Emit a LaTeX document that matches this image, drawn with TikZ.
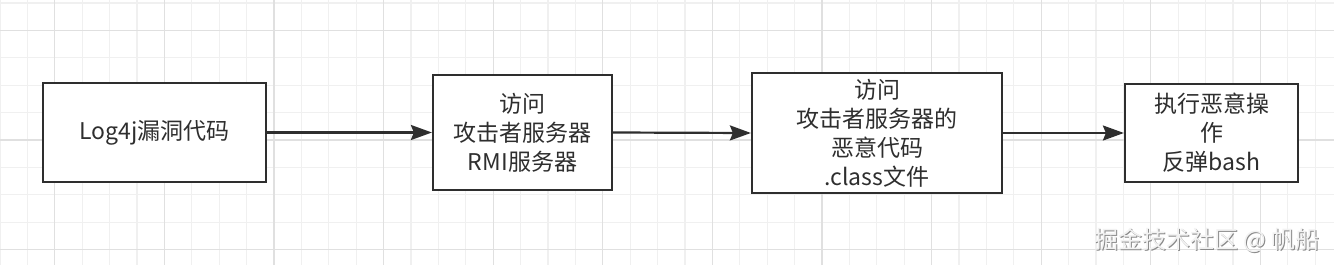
\documentclass[tikz,border=0pt]{standalone}
\usepackage{fontspec}
\setmainfont{Noto Sans CJK SC}
\usetikzlibrary{arrows.meta}
\definecolor{gridminor}{HTML}{F0F0F0}
\definecolor{gridmajor}{HTML}{E0E0E0}
\definecolor{ink}{HTML}{2E2E2E}
\definecolor{wmshadow}{HTML}{8A8A8A}
\definecolor{wmface}{HTML}{F2F2F2}
\tikzset{
  stepbox/.style={draw=ink, line width=2.2pt, fill=white, align=center, inner sep=0pt,
    text=ink, font=\fontsize{23}{29}\selectfont},
  flow/.style={draw=ink, line width=2.2pt, -{Stealth[length=21pt,width=15pt,inset=3pt]}},
  wmark/.style={font=\fontsize{24}{28}\selectfont, anchor=east, inner sep=0pt}
}
\begin{document}
\begin{tikzpicture}[x=1pt,y=-1pt]
\useasboundingbox (0,0) rectangle (1334,265);
\fill[white] (0,0) rectangle (1334,265);
% grid
\foreach \i in {0,...,48} \draw[gridminor, line width=1.2pt] (\i*27.4,0) -- (\i*27.4,265);
\foreach \j in {0,...,9} \draw[gridminor, line width=1.2pt] (0,3+\j*27.4) -- (1334,3+\j*27.4);
\foreach \i in {0,...,12} \draw[gridmajor, line width=1.2pt] (54.8+\i*109.6,0) -- (54.8+\i*109.6,265);
\foreach \j in {0,...,2} \draw[gridmajor, line width=1.2pt] (0,30.4+\j*109.6) -- (1334,30.4+\j*109.6);
% boxes
\node[stepbox, minimum width=223pt, minimum height=99pt] (b1) at (154.5,132.5) {Log4j漏洞代码};
\node[stepbox, minimum width=179pt, minimum height=115pt] (b2) at (522.5,132.5) {访问\\攻击者服务器\\RMI服务器};
\node[stepbox, minimum width=250pt, minimum height=120pt] (b3) at (877,133) {访问\\攻击者服务器的\\恶意代码\\.class文件};
\node[stepbox, minimum width=173pt, minimum height=98pt] (b4) at (1211.5,133) {执行恶意操\\作\\反弹bash};
% arrows
\draw[flow] (b1.east) -- (b2.west);
\draw[flow] (b2.east) -- (b3.west);
\draw[flow] (b3.east) -- (b4.west);
% watermark
\node[wmark, text=wmshadow] (wm1) at (1321,241) {掘金技术社区 @ 帆船};
\node[wmark, text=wmface] (wm2) at (1320,240) {掘金技术社区 @ 帆船};
\end{tikzpicture}
\end{document}
